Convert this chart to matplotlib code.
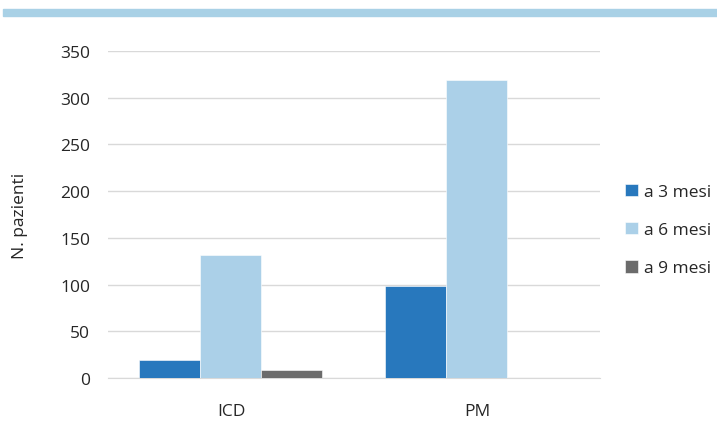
import matplotlib
matplotlib.use("Agg")
from matplotlib import pyplot as plt
import numpy as np

# data
categories = ["ICD", "PM"]
series_names = ["a 3 mesi", "a 6 mesi", "a 9 mesi"]
mesi3 = [19, 99]
mesi6 = [132, 319]
mesi9 = [9, 0]
yticks = [0, 50, 100, 150, 200, 250, 300, 350]

colors = ["#2878bd", "#abd0e8", "#6b6b6b"]

plt.rcParams['font.family'] = ['Open Sans', 'DejaVu Sans']

fig = plt.figure(figsize=(7.17, 4.31), dpi=100)
ax = fig.add_axes([0.1506, 0.1206, 0.686, 0.7587])

# light blue band at the top
fig.patches.append(matplotlib.patches.Rectangle((0.004, 1 - 17/431), 0.996, 7/431,
                   transform=fig.transFigure, color="#a9d1e6", zorder=0))

x = np.arange(len(categories))
w = 0.248
for i, (vals, name) in enumerate(zip([mesi3, mesi6, mesi9], series_names)):
    ax.bar(x + (i - 1) * w, vals, width=w, color=colors[i], label=name,
           edgecolor="white", linewidth=0.4, zorder=3)

ax.set_xlim(-0.5, 1.5)
ax.set_ylim(0, 350)
ax.set_yticks(yticks)
ax.set_xticks(x)
ax.set_xticklabels(categories, fontsize=12.5, color="#262626")
ax.tick_params(axis="y", labelsize=12.5, labelcolor="#262626", length=0, pad=13)
ax.tick_params(axis="x", length=0, pad=18)
ax.grid(axis="y", color="#d9d9d9", lw=1, zorder=0)
for s in ["top", "right", "left"]:
    ax.spines[s].set_visible(False)
ax.spines["bottom"].set_color("#d9d9d9")
ax.set_ylabel("N. pazienti", fontsize=12.5, color="#262626", labelpad=23)

leg = ax.legend(loc="center left", bbox_to_anchor=(1.02, 0.453), frameon=False,
                fontsize=12.5, handlelength=0.75, handleheight=0.75,
                handletextpad=0.3, labelspacing=1.25)
for t in leg.get_texts():
    t.set_color("#262626")

plt.savefig("out.png", dpi=100)
plt.close()
